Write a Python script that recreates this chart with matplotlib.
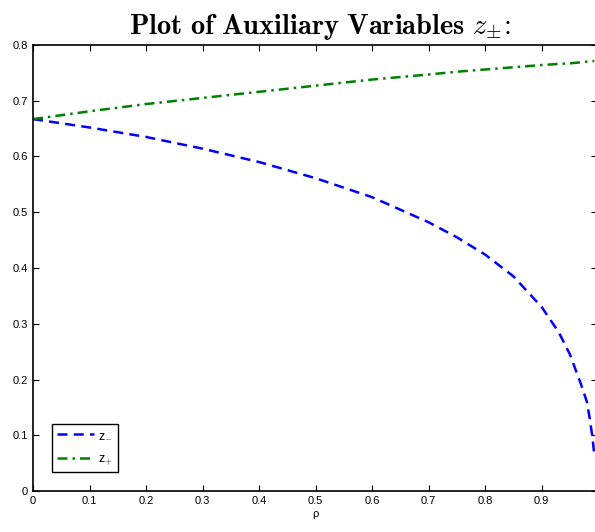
import matplotlib.pyplot as plt

# values
rho = [0.0, 0.1, 0.2, 0.3, 0.4, 0.5, 0.6, 0.7, 0.75, 0.8, 0.85, 0.9, 0.93, 0.95,
       0.97, 0.98, 0.985, 0.99, 0.993]
z_minus = [0.667, 0.652, 0.635, 0.614, 0.590, 0.561, 0.527, 0.482, 0.455, 0.424,
           0.385, 0.330, 0.285, 0.245, 0.190, 0.160, 0.130, 0.095, 0.065]
z_plus = [0.667, 0.681, 0.694, 0.705, 0.716, 0.727, 0.738, 0.747, 0.752, 0.756,
          0.760, 0.764, 0.766, 0.767, 0.769, 0.770, 0.770, 0.771, 0.771]

xticks = [0, 0.1, 0.2, 0.3, 0.4, 0.5, 0.6, 0.7, 0.8, 0.9]
yticks = [0, 0.1, 0.2, 0.3, 0.4, 0.5, 0.6, 0.7, 0.8]

plt.rcParams['mathtext.fontset'] = 'cm'
plt.rcParams['font.family'] = ['Liberation Sans', 'DejaVu Sans']

fig = plt.figure(figsize=(5.95, 5.32), dpi=100)
ax = fig.add_axes([0.0555, 0.077, 0.948, 0.8385])

ax.plot(rho, z_minus, color='blue', linestyle=(0, (4, 2.5)), linewidth=1.8, label='z$_{-}$')
ax.plot(rho, z_plus, color='green', linestyle=(0, (4, 2, 1, 2)), linewidth=1.8, label='z$_{+}$')

ax.set_xlim(0, 0.998)
ax.set_ylim(0, 0.8)
ax.set_xticks(xticks)
ax.set_xticklabels([f'{t:g}' for t in xticks])
ax.set_yticks(yticks)
ax.set_yticklabels([f'{t:g}' for t in yticks])
ax.tick_params(direction='in', top=True, right=True, labelsize=8, length=4, width=0.8)
for s in ax.spines.values():
    s.set_linewidth(1.2)

ax.set_xlabel('ρ', fontsize=8, labelpad=2)
fig.suptitle(r'$\mathbf{Plot\ of\ Auxiliary\ Variables}\ z_{\pm}\!\mathbf{:}$', fontsize=20.5,
             x=0.538, y=0.977)

leg = ax.legend(loc='lower left', fontsize=9, fancybox=False, framealpha=1,
                edgecolor='black', handlelength=3.0, borderaxespad=1.5,
                labelspacing=1.0, handletextpad=0.3, bbox_to_anchor=(0.0, 0.0))
leg.get_frame().set_linewidth(1.0)

fig.savefig('out.png', dpi=100)
